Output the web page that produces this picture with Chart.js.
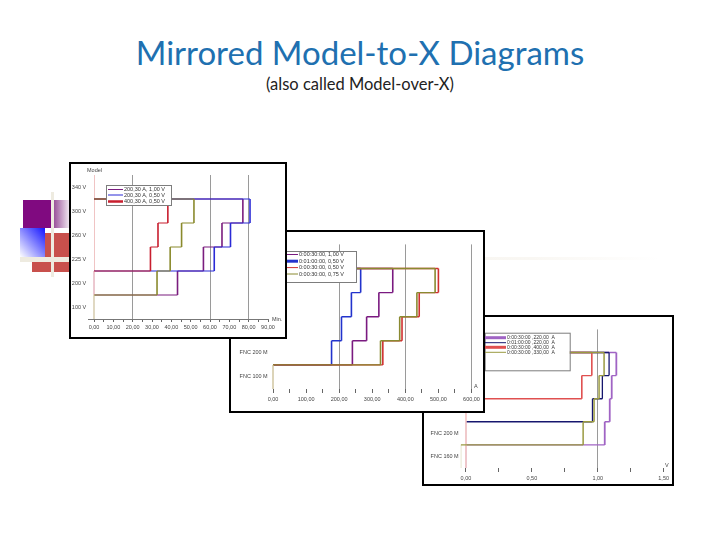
<!DOCTYPE html>
<html>
<head>
<meta charset="utf-8">
<script src="https://cdn.jsdelivr.net/npm/chart.js@4.4.0/dist/chart.umd.min.js"></script>
<style>
  html, body { margin: 0; padding: 0; background: #fff; }
  #slide { position: relative; width: 720px; height: 540px; overflow: hidden; background: #fff; }
  .title { position: absolute; left: 0; width: 720px; text-align: center; font-family: Lato, sans-serif; line-height: 1.2; white-space: nowrap; }
  #title { top: 33px; font-size: 33px; color: #2070b0; }
  #subtitle { top: 75px; font-size: 16.5px; color: #222; }
  .deco { position: absolute; }
  .frame { position: absolute; box-sizing: border-box; border: 2px solid #000; background: #fff; }
  .frame canvas { display: block; }
</style>
</head>
<body>
<div id="slide">
  <div id="title" class="title">Mirrored Model-to-X Diagrams</div>
  <div id="subtitle" class="title">(also called Model-over-X)</div>

  <!-- theme decoration on the left -->
  <div class="deco" style="left:20px;top:257px;width:640px;height:3px;background:linear-gradient(to right,#ece8dc 0%,#f4f1ea 12%,#f9f7f3 80%,rgba(255,255,255,0) 100%)"></div>
  <div class="deco" style="left:23px;top:200px;width:29px;height:28px;background:#800a80"></div>
  <div class="deco" style="left:52px;top:200px;width:18px;height:28px;background:linear-gradient(to right,#8f3f8f,#f4eef4)"></div>
  <div class="deco" style="left:20px;top:228px;width:25px;height:29px;background:linear-gradient(to bottom left,#1414ff 0%,#7c7cff 45%,#fff 100%)"></div>
  <div class="deco" style="left:45px;top:233px;width:25px;height:24px;background:#c8504c"></div>
  <div class="deco" style="left:32px;top:262px;width:38px;height:10px;background:#c8504c"></div>
  <div class="deco" style="left:20px;top:257px;width:50px;height:5px;background:#eeebe0"></div>
  <div class="deco" style="left:51px;top:192px;width:3px;height:85px;background:#eeebe0"></div>

  <div class="frame" style="left:422px;top:315px;width:252px;height:171px"><canvas id="chart3" width="248" height="167"></canvas></div>
  <div class="frame" style="left:229px;top:230px;width:256px;height:183px"><canvas id="chart2" width="252" height="179"></canvas></div>
  <div class="frame" style="left:69px;top:162px;width:218px;height:177px"><canvas id="chart1" width="214" height="173"></canvas></div>
</div>

<script>
const FONT = "'Liberation Sans', Arial, sans-serif";
const TEXT = '#444';
const LEVELS = 6;

// ---------- Diagram 1: model over time ----------
const m1Bands = ['100 V', '200 V', '225 V', '260 V', '300 V', '340 V'];
const m1Ticks = [0, 5, 10, 15, 20, 25, 30, 35, 40, 45, 50, 55, 60, 65, 70, 75, 80, 85, 90];
const m1Grid = [20, 60, 80];
const m1UnitX = 'Min.';
const m1UnitY = 'Model';
const m1Names = ['200,30 A, 1,00 V', '200,30 A, 0,50 V', '400,30 A, 0,50 V', ''];
const m1Origin = [0, 0, 0, 0];
const m1Start = [1, 2, 2, 1];
const m1Purple = [43.2, 56.6, 66.2, 77.0];
const m1Blue = [62.2, 70.6, 80.7];
const m1Red = [29.2, 33.1, 38.2];
const m1Olive = [32.6, 39.4, 45.3, 51.7];

// ---------- Diagram 2: model over current ----------
const m2Bands = ['FNC 100 M', 'FNC 200 M'];
const m2Ticks = [0, 50, 100, 150, 200, 250, 300, 350, 400, 450, 500, 550, 600];
const m2Grid = [200, 400, 600];
const m2UnitX = 'A';
const m2Names = ['0:00:30:00, 1,00 V', '0:01:00:00, 0,50 V', '0:00:30:00, 0,50 V', '0:00:30:00, 0,75 V'];
const m2Origin = [0, 0, 0, 0];
const m2Start = [1, 1, 1, 1];
const m2Purple = [240, 283, 320, 362];
const m2Blue = [177, 207, 237, 265];
const m2Red = [332, 390, 442, 500];
const m2Olive = [325, 383, 435, 490];

// ---------- Diagram 3: model over voltage ----------
const m3Bands = ['FNC 160 M', 'FNC 200 M'];
const m3Ticks = [0, 0.25, 0.5, 0.75, 1, 1.25, 1.5];
const m3Grid = [1];
const m3UnitX = 'V';
const m3Names = ['0:00:30:00 ,220,00  A', '0:01:00:00 ,220,00  A', '0:00:30:00 ,400,00  A', '0:00:30:00 ,330,00  A'];
const m3Origin = [0, 0, 0, -0.04];
const m3Start = [1, 2, 3, 1];
const m3Lavender = [1.053, 1.091, 1.106, 1.141];
const m3Navy = [0.96, 1.035, 1.086];
const m3Red = [0.879, 0.955];
const m3Olive = [0.889, 0.972, 1.01, 1.048];

Chart.defaults.font.family = FONT;
Chart.defaults.font.size = 5.5;
Chart.defaults.color = TEXT;

// stair path: up from the axis, step right/up per change, then back along the top (mirrored)
function stairs(x0, start, steps) {
    const pts = [{ x: x0, y: 0 }, { x: x0, y: start }];
    let level = start;
    steps.forEach(x => {
        pts.push({ x, y: level });
        level += 1;
        pts.push({ x, y: level });
    });
    pts.push({ x: x0, y: level });
    return pts;
}

function buildSets(names, origins, starts, stepLists, styles, hWidth) {
    return names.map((label, i) => ({
        label,
        data: stairs(origins[i], starts[i], stepLists[i]),
        borderColor: styles[i].color,
        borderWidth: styles[i].width,
        legendWidth: styles[i].legend,
        order: styles[i].order,
        pointRadius: 0,
        fill: false,
        tension: 0,
        segment: {
            // the rise from the axis is drawn faint, flat runs a little thinner
            borderColor: c => (c.p0DataIndex === 0 ? styles[i].pale : undefined),
            borderWidth: c => (c.p0.parsed.y === c.p1.parsed.y ? hWidth : undefined)
        }
    }));
}

const fmt = v => v.toFixed(2).replace('.', ',');

// boxed legend inside the plot + unit captions
const boxLegend = {
    id: 'boxLegend',
    afterDraw(chart, args, opts) {
        const { ctx } = chart;
        ctx.save();
        const b = opts.box;
        ctx.fillStyle = '#fff';
        ctx.fillRect(b.x, b.y, b.w, b.h);
        ctx.strokeStyle = '#7d7d7d';
        ctx.lineWidth = 1;
        ctx.strokeRect(b.x + 0.5, b.y + 0.5, b.w, b.h);

        ctx.font = `${opts.fontSize}px ${FONT}`;
        ctx.textBaseline = 'middle';
        ctx.textAlign = 'left';
        chart.data.datasets.filter(d => d.label).forEach((d, i) => {
            const y = opts.rows[i];
            ctx.strokeStyle = d.borderColor;
            ctx.lineWidth = d.legendWidth;
            ctx.beginPath();
            ctx.moveTo(opts.lineX, y);
            ctx.lineTo(opts.lineX + opts.lineLen, y);
            ctx.stroke();
            ctx.fillStyle = '#333';
            ctx.fillText(d.label, opts.lineX + opts.lineLen + 1, y);
        });

        ctx.fillStyle = TEXT;
        ctx.font = `5.5px ${FONT}`;
        (opts.units || []).forEach(u => ctx.fillText(u.text, u.x, u.y));
        ctx.restore();
    }
};

function stepChart(id, cfg) {
    const ctx = document.getElementById(id).getContext('2d');
    const centers = Array.from({ length: LEVELS }, (_, i) => i + 0.5);
    return new Chart(ctx, {
        type: 'line',
        data: { datasets: cfg.datasets },
        options: {
            responsive: false,
            animation: false,
            devicePixelRatio: 1,
            layout: { padding: cfg.padding },
            plugins: {
                legend: { display: false },
                tooltip: { enabled: false },
                boxLegend: cfg.legend
            },
            scales: {
                x: {
                    type: 'linear',
                    min: cfg.xMin,
                    max: cfg.xMax,
                    afterBuildTicks: s => { s.ticks = cfg.xTicks.map(value => ({ value })); },
                    afterFit: s => { s.height = cfg.xHeight; },
                    border: { display: cfg.xBorder, color: '#777', width: 1 },
                    grid: {
                        color: c => {
                            const v = c.tick ? c.tick.value : null;
                            if (cfg.grid.some(g => Math.abs(g - v) < 1e-9)) return '#9a9a9a';
                            if (cfg.zeroLine && v === 0) return '#f0c4c4';
                            return 'rgba(0,0,0,0)';
                        },
                        tickColor: '#666',
                        tickLength: cfg.tickLength
                    },
                    ticks: {
                        padding: cfg.tickPad,
                        autoSkip: false,
                        maxRotation: 0,
                        callback: v => {
                            const k = v / cfg.labelEvery;
                            return Math.abs(k - Math.round(k)) < 1e-9 ? fmt(v) : '';
                        }
                    }
                },
                y: {
                    type: 'linear',
                    min: 0,
                    max: LEVELS,
                    afterBuildTicks: s => { s.ticks = centers.map(value => ({ value })); },
                    afterFit: s => { s.width = cfg.yWidth; },
                    grid: { display: false, drawTicks: false, tickLength: 0 },
                    border: { display: false },
                    ticks: {
                        padding: 2,
                        autoSkip: false,
                        callback: v => cfg.bands[Math.floor(v)] || ''
                    }
                }
            }
        },
        plugins: [boxLegend]
    });
}

// Diagram 1
stepChart('chart1', {
    datasets: buildSets(m1Names, m1Origin, m1Start, [m1Purple, m1Blue, m1Red, m1Olive], [
        { color: '#7a1d7e', pale: '#e6cfe6', width: 1.6, legend: 1, order: 4 },
        { color: '#2b2bd6', pale: '#d0d0f4', width: 1.6, legend: 1, order: 3 },
        { color: '#c81e2e', pale: '#f2c6c8', width: 1.6, legend: 2.5, order: 2 },
        { color: '#8a8a2c', pale: '#deddbf', width: 1.6, legend: 1, order: 1 }
    ], 1.1),
    padding: { top: 11, right: 17, left: 0, bottom: 0 },
    xMin: -3, xMax: 90, xTicks: m1Ticks, labelEvery: 10, grid: m1Grid, zeroLine: true,
    xHeight: 18, xBorder: true, tickLength: 3, tickPad: 2,
    yWidth: 17.2, bands: m1Bands,
    legend: {
        box: { x: 35, y: 21, w: 65, h: 20 },
        rows: [25.5, 31, 37.5], lineX: 37, lineLen: 15, fontSize: 5.5,
        units: [{ text: m1UnitY, x: 16, y: 6 }, { text: m1UnitX, x: 201, y: 155 }]
    }
});

// Diagram 2
stepChart('chart2', {
    datasets: buildSets(m2Names, m2Origin, m2Start, [m2Purple, m2Blue, m2Red, m2Olive], [
        { color: '#7a1a80', pale: '#e0cce2', width: 1.6, legend: 1, order: 3 },
        { color: '#2233cc', pale: '#ccd0f2', width: 1.6, legend: 3, order: 4 },
        { color: '#d03030', pale: '#f2c8c8', width: 1.6, legend: 1, order: 2 },
        { color: '#8a8a30', pale: '#d8d8b4', width: 1.6, legend: 1, order: 1 }
    ], 1.4),
    padding: { top: 12.4, right: 6.7, left: 0, bottom: 0 },
    xMin: -10, xMax: 610, xTicks: m2Ticks, labelEvery: 100, grid: m2Grid, zeroLine: false,
    xHeight: 22, xBorder: false, tickLength: 4, tickPad: 3,
    yWidth: 38.7, bands: m2Bands,
    legend: {
        box: { x: 40, y: 19, w: 85, h: 31 },
        rows: [22.5, 29.2, 35.6, 42], lineX: 52, lineLen: 15, fontSize: 5.5,
        units: [{ text: m2UnitX, x: 243, y: 154 }]
    }
});

// Diagram 3
stepChart('chart3', {
    datasets: buildSets(m3Names, m3Origin, m3Start, [m3Lavender, m3Navy, m3Red, m3Olive], [
        { color: '#a064c4', pale: '#e6d6ee', width: 1.8, legend: 3, order: 4 },
        { color: '#16166e', pale: '#cfcfe0', width: 1.3, legend: 1, order: 3 },
        { color: '#e05050', pale: '#f4c4c4', width: 1.6, legend: 3, order: 2 },
        { color: '#9a9a40', pale: '#deddc0', width: 1.5, legend: 1, order: 1 }
    ], 1.4),
    padding: { top: 12.4, right: 8, left: 0, bottom: 0 },
    xMin: -0.04, xMax: 1.5, xTicks: m3Ticks, labelEvery: 0.5, grid: m3Grid, zeroLine: false,
    xHeight: 16, xBorder: false, tickLength: 4, tickPad: 3,
    yWidth: 36.7, bands: m3Bands,
    legend: {
        box: { x: 60.7, y: 15.7, w: 85, h: 37.6 },
        rows: [20.7, 25.7, 30.3, 35.3], lineX: 61, lineLen: 21, fontSize: 5,
        units: [{ text: m3UnitX, x: 241, y: 148 }]
    }
});
</script>
</body>
</html>
